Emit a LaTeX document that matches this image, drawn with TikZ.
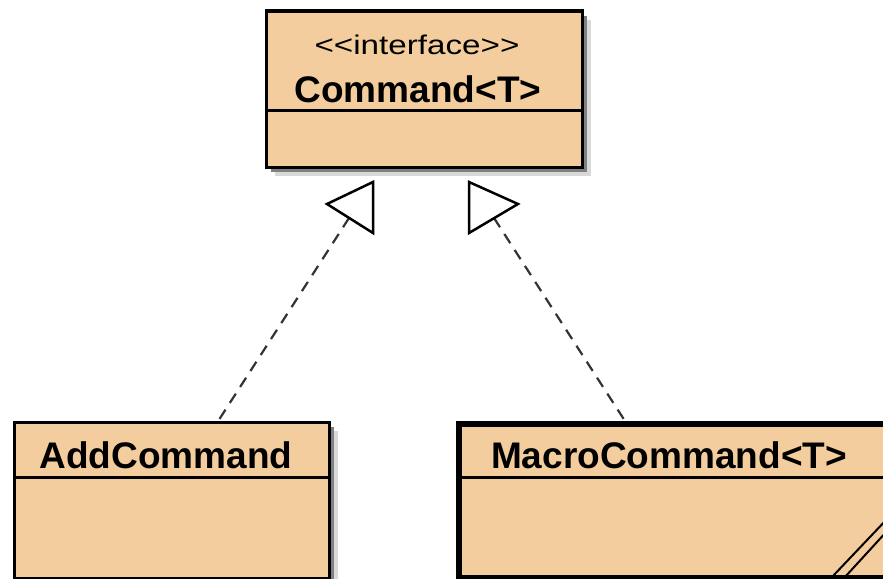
\documentclass[tikz,border=0pt]{standalone}
\usepackage{fontspec}
\setmainfont{Liberation Sans}
\usetikzlibrary{shadows}
\definecolor{umlfill}{RGB}{243,205,157}
\begin{document}
\begin{tikzpicture}[x=1pt,y=-1pt,
  cls/.style={draw=black, fill=umlfill, line width=3.5pt, rectangle, inner sep=0pt, anchor=north west},
  shadowed/.style={drop shadow={shadow xshift=9pt, shadow yshift=-9pt, fill=black!15, opacity=1},
                   drop shadow={shadow xshift=5pt, shadow yshift=-5pt, fill=black!50, opacity=1}},
  divider/.style={line width=3pt},
  title/.style={font=\bfseries\fontsize{37}{40}\selectfont, anchor=base, inner sep=0pt},
  stereo/.style={font=\fontsize{27}{30}\selectfont, anchor=base, inner sep=0pt, xscale=1.23},
  tri/.style={draw=black, fill=white, line width=2.5pt, line join=miter},
  dep/.style={draw=black!80, line width=2.2pt, dash pattern=on 11pt off 8pt},
  hatch/.style={draw=black, line width=2pt}
]
\useasboundingbox (0,0) rectangle (883,578);
\clip (0,0) rectangle (883,578);

% Command<T>
\node[cls, shadowed, minimum width=316pt, minimum height=156pt] (cmd) at (264.5,9.5) {};
\draw[divider] ([yshift=-101pt]cmd.north west) -- ([yshift=-101pt]cmd.north east);
\node[stereo] (cmdst) at (417,55) {<{}<interface>{}>};
\node[title] (cmdt) at (418,102) {Command<T>};

% AddCommand
\node[cls, shadowed, minimum width=315pt, minimum height=156pt] (add) at (12.5,420.5) {};
\draw[divider] ([yshift=-57pt]add.north west) -- ([yshift=-57pt]add.north east);
\node[title] (addt) at (166,468) {AddCommand};

% MacroCommand<T>
\node[cls, line width=6pt, minimum width=460pt, minimum height=154pt] (mac) at (456,421) {};
\draw[divider] ([yshift=-56pt]mac.north west) -- ([yshift=-56pt]mac.north east);
\node[title] (mact) at (669,468) {MacroCommand<T>};
\coordinate (h1a) at (832,577);
\coordinate (h1b) at (888,518);
\coordinate (h2a) at (845,577);
\coordinate (h2b) at (888,530);
\draw[hatch] (h1a) -- (h1b);
\draw[hatch] (h2a) -- (h2b);

% realization arrows
\coordinate (t1a) at (373,182);
\coordinate (t1b) at (373,233);
\coordinate (t1c) at (327,204);
\coordinate (t1hit) at (349,218);
\coordinate (t2a) at (469,182);
\coordinate (t2b) at (469,233);
\coordinate (t2c) at (518,204);
\coordinate (t2hit) at (494,218);

\draw[dep] (t1hit) -- ([xshift=206pt]add.north west);
\draw[dep] (t2hit) -- ([xshift=169pt]mac.north west);
\draw[tri] (t1a) -- (t1b) -- (t1c) -- cycle;
\draw[tri] (t2a) -- (t2b) -- (t2c) -- cycle;
\end{tikzpicture}
\end{document}
